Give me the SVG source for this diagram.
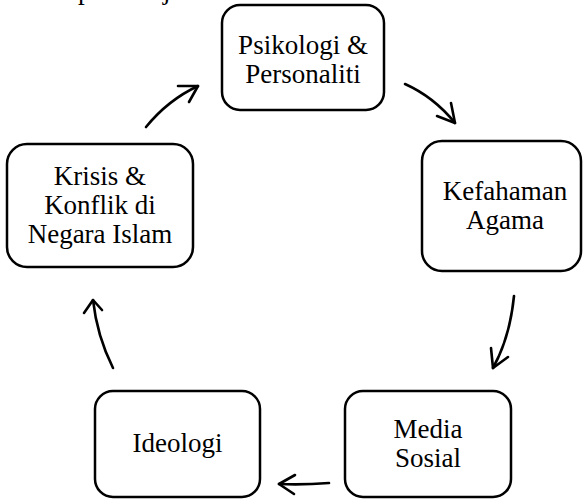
<svg xmlns="http://www.w3.org/2000/svg" width="583" height="499" viewBox="0 0 583 499">
  <style>
    .box { fill: #ffffff; stroke: #000000; stroke-width: 2.5; }
    .lbl { font-family: "Liberation Serif", "Times New Roman", serif; font-size: 27px; fill: #000000; text-anchor: middle; }
    .frag { font-family: "Liberation Serif", "Times New Roman", serif; font-size: 27px; fill: #000000; }
    .con { fill: none; stroke: #000000; stroke-width: 2.6; stroke-linecap: round; stroke-linejoin: round; }
  </style>
  <rect width="583" height="499" fill="#ffffff"/>

  <g id="fragment">
    <text class="frag" x="78" y="-1">p</text>
    <text class="frag" x="163" y="-1">j</text>
  </g>

  <g id="node-psikologi">
    <rect class="box" x="222" y="5" width="162" height="105" rx="18"/>
    <text class="lbl" x="303" y="54">Psikologi &amp;</text>
    <text class="lbl" x="303" y="83">Personaliti</text>
  </g>

  <g id="node-kefahaman">
    <rect class="box" x="422" y="141" width="159" height="130" rx="20"/>
    <text class="lbl" x="505" y="200">Kefahaman</text>
    <text class="lbl" x="505" y="229">Agama</text>
  </g>

  <g id="node-media">
    <rect class="box" x="345" y="391" width="166" height="106" rx="18"/>
    <text class="lbl" x="428" y="438">Media</text>
    <text class="lbl" x="428" y="467">Sosial</text>
  </g>

  <g id="node-ideologi">
    <rect class="box" x="95" y="391" width="165" height="106" rx="18"/>
    <text class="lbl" x="177.5" y="452">Ideologi</text>
  </g>

  <g id="node-krisis">
    <rect class="box" x="7" y="144" width="186" height="123" rx="20"/>
    <text class="lbl" x="100" y="185">Krisis &amp;</text>
    <text class="lbl" x="100" y="214">Konflik di</text>
    <text class="lbl" x="100" y="243">Negara Islam</text>
  </g>

  <g id="connectors">
    <!-- Krisis -> Psikologi -->
    <path class="con" d="M146,127 Q168,100 198,86"/>
    <path class="con" d="M178,86 L198,86 L189,102"/>
    <!-- Psikologi -> Kefahaman -->
    <path class="con" d="M405,84 Q434,97 455,123"/>
    <path class="con" d="M451,103 L455,123 L437,116"/>
    <!-- Kefahaman -> Media -->
    <path class="con" d="M514,296 Q510,337 493,368"/>
    <path class="con" d="M491,348 L493,368 L508,357"/>
    <!-- Media -> Ideologi -->
    <path class="con" d="M329,483 Q303,485 279,484"/>
    <path class="con" d="M295,475 L279,484 L294,494"/>
    <!-- Ideologi -> Krisis -->
    <path class="con" d="M113,368 Q97,336 93,300"/>
    <path class="con" d="M84,313 L93,300 L102,310"/>
  </g>
</svg>
